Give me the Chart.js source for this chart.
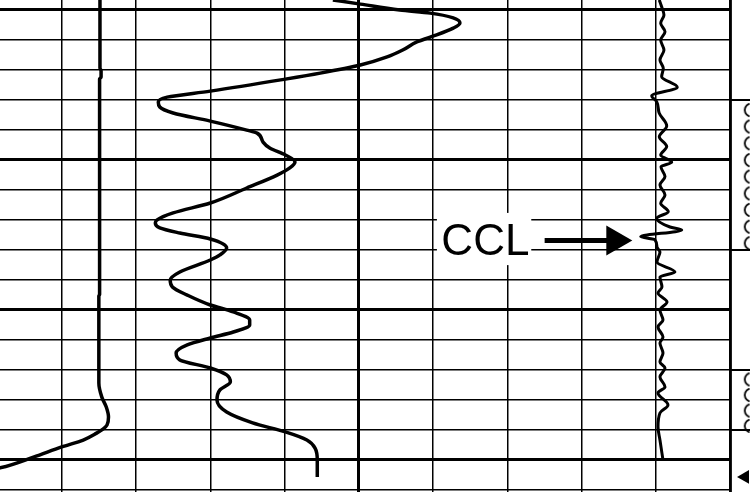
<!DOCTYPE html>
<html>
<head>
<meta charset="utf-8">
<script src="https://cdn.jsdelivr.net/npm/chart.js@4.4.1/dist/chart.umd.min.js"></script>
<style>
html,body{margin:0;padding:0;background:#fff;}
#wrap{width:750px;height:492px;}
canvas{display:block;}
</style>
</head>
<body>
<div id="wrap"><canvas id="c" width="750" height="492"></canvas></div>
<script>
// ---- scale / tick data (x: log value units, 10 per division; y: depth) ----
const xTicks = [10, 20, 30, 40, 50, 60, 70, 80, 90, 100];
const xMajorTicks = [50, 100];
const depthTicks = [1000, 1010, 1020, 1030, 1040, 1050, 1060, 1070, 1080, 1090, 1100, 1110, 1120, 1130, 1140, 1150, 1160];
const depthMajorTicks = [1000, 1050, 1100, 1150];

// ---- left curve ----
const leftX =     [15.15, 15.15, 15.3, 15.3, 15.1, 15.1, 15.0, 15.0, 15.4, 16.0, 16.3, 16.1, 15.6, 14.7, 12.9, 10.0, 6.2, 1.7, 0.0];
const leftDepth = [996.8, 1019.5, 1020.4, 1022.5, 1023.2, 1095.0, 1095.5, 1124.5, 1129.2, 1132.5, 1135.8, 1138.5, 1139.8, 1141.2, 1143.5, 1145.8, 1149.2, 1152.8, 1153.6];

// ---- main wiggly curve ----
const mainX = [46.5, 50.2, 55.5, 59.6, 62.7, 63.6, 62.7, 59.6, 57.8, 55.9, 53.8, 50.2, 44.8, 40.1, 30.0, 24.2, 23.0, 23.2, 25.0, 30.0,
  34.9, 36.3, 37.1, 38.0, 40.1, 41.4, 40.7, 39.0, 34.9, 30.0, 25.0, 22.8, 22.6, 23.2, 25.9, 30.0, 32.2, 31.3, 30.0, 25.9,
  24.6, 24.9, 26.9, 30.0, 33.1, 35.3, 35.3, 33.1, 30.0, 26.9, 25.4, 25.9, 30.0, 32.2, 32.7, 31.3, 30.9, 32.2, 35.7, 40.1,
  43.0, 44.1, 44.4, 44.4];
const mainDepth = [996.8, 998.2, 1000.2, 1001.2, 1002.8, 1004.5, 1006.2, 1009.2, 1010.8, 1013.5, 1015.8, 1018.5, 1021.2, 1023.2, 1027.2, 1029.2, 1030.8, 1032.5, 1034.5, 1037.2,
  1040.2, 1041.2, 1044.2, 1046.2, 1048.5, 1050.8, 1052.8, 1055.2, 1059.5, 1064.5, 1067.8, 1070.2, 1071.2, 1072.8, 1074.5, 1076.5, 1079.5, 1081.8, 1083.5, 1087.5,
  1090.2, 1092.5, 1095.2, 1098.5, 1100.8, 1103.5, 1105.2, 1107.5, 1109.5, 1111.8, 1114.5, 1116.8, 1119.5, 1121.8, 1124.2, 1126.8, 1130.2, 1134.2, 1137.8, 1140.8,
  1143.5, 1146.2, 1150.2, 1155.8];

// ---- CCL curve ----
const cclX = [90.43, 90.75, 91.06, 90.62, 91.20, 90.62, 91.06, 90.52, 90.97, 90.75, 92.85, 89.41, 90.08, 90.43, 91.43, 90.43, 91.43, 90.62, 92.10, 90.66,
  91.20, 90.52, 91.20, 90.62, 91.64, 90.08, 91.87, 93.45, 87.93, 89.85, 90.12, 90.52, 90.12, 92.54, 90.52, 90.79, 90.26, 91.47, 90.52, 90.93,
  90.26, 90.93, 90.52, 90.93, 90.52, 91.20, 90.52, 91.20, 90.26, 91.60, 90.52, 90.26, 90.52, 90.93];
const cclDepth = [996.8, 999.1, 1001.8, 1004.6, 1007.4, 1010.2, 1013.5, 1016.8, 1019.6, 1022.4, 1025.9, 1028.8, 1030.7, 1034.6, 1038.8, 1042.4, 1045.7, 1048.5, 1050.9, 1052.4,
  1055.7, 1058.5, 1061.8, 1064.6, 1067.4, 1069.6, 1072.5, 1073.5, 1075.7, 1076.8, 1079.2, 1080.8, 1084.2, 1087.5, 1089.2, 1092.5, 1094.5, 1097.5, 1100.2, 1103.5,
  1105.8, 1109.2, 1111.2, 1114.5, 1117.5, 1119.5, 1122.5, 1125.8, 1127.8, 1131.8, 1134.5, 1139.2, 1143.5, 1150.2];

// ---- right (perforation) track ----
const trackEdge = 100;
const perfX = 102.2;
const perfDepths = [1033.5, 1039.0, 1044.6, 1050.2, 1055.7, 1061.3, 1066.8, 1072.4, 1077.9, 1123.3, 1128.5, 1133.7, 1138.8];
const intervalDepths = [1030, 1080, 1120, 1140];
const markerX = 101.97;
const markerDepth = 1155.8;

// ---- CCL annotation ----
const labelText = 'CCL';
const labelPos = { x: 61.1, depth: 1081.7 };
const labelBox = { x0: 60.5, x1: 73.2, d0: 1067.8, d1: 1085.2 };
const arrowPos = { from: 75.0, base: 83.3, tip: 86.8, depth: 1077.0 };

const pts = (xs, ds) => xs.map((x, i) => ({ x: x, y: ds[i] }));

// paren glyph used as point style
const parenImg = document.createElement('canvas');
parenImg.width = 12; parenImg.height = 16;
(function () {
  const pc = parenImg.getContext('2d');
  pc.strokeStyle = '#000';
  pc.lineWidth = 1.8;
  pc.lineCap = 'round';
  pc.beginPath();
  pc.arc(10.5, 8, 6.5, Math.PI * 0.62, Math.PI * 1.38);
  pc.stroke();
})();

const overlay = {
  id: 'overlay',
  beforeDatasetsDraw(chart) {
    const { ctx, scales: { x, y } } = chart;
    ctx.save();
    // right track: clear grid beyond the track border
    const xb = x.getPixelForValue(trackEdge) + 1.5;
    ctx.fillStyle = '#fff';
    ctx.fillRect(xb, 0, chart.width - xb, chart.height);
    ctx.strokeStyle = '#000';
    ctx.lineWidth = 2;
    intervalDepths.forEach(d => {
      const py = Math.round(y.getPixelForValue(d));
      ctx.beginPath();
      ctx.moveTo(xb - 1, py);
      ctx.lineTo(chart.width, py);
      ctx.stroke();
    });
    // label box
    const bx0 = x.getPixelForValue(labelBox.x0), bx1 = x.getPixelForValue(labelBox.x1);
    const by0 = y.getPixelForValue(labelBox.d0), by1 = y.getPixelForValue(labelBox.d1);
    ctx.fillStyle = '#fff';
    ctx.fillRect(bx0, by0, bx1 - bx0, by1 - by0);
    ctx.fillStyle = '#000';
    ctx.font = '44px "Liberation Sans", Arial, sans-serif';
    ctx.textBaseline = 'alphabetic';
    ctx.textAlign = 'left';
    ctx.fillText(labelText, x.getPixelForValue(labelPos.x), y.getPixelForValue(labelPos.depth));
    // arrow
    const ay = y.getPixelForValue(arrowPos.depth);
    const ax0 = x.getPixelForValue(arrowPos.from), axb = x.getPixelForValue(arrowPos.base), axt = x.getPixelForValue(arrowPos.tip);
    ctx.lineWidth = 5;
    ctx.beginPath();
    ctx.moveTo(ax0, ay);
    ctx.lineTo(axb + 1, ay);
    ctx.stroke();
    ctx.beginPath();
    ctx.moveTo(axb, ay - 15);
    ctx.lineTo(axt, ay);
    ctx.lineTo(axb, ay + 15);
    ctx.closePath();
    ctx.fill();
    ctx.restore();
  }
};

const curveBase = { borderColor: '#000', pointRadius: 0, fill: false, cubicInterpolationMode: 'monotone' };

new Chart(document.getElementById('c'), {
  type: 'line',
  data: {
    datasets: [
      Object.assign({ data: pts(leftX, leftDepth), borderWidth: 3.5 }, curveBase),
      Object.assign({ data: pts(mainX, mainDepth), borderWidth: 3.5 }, curveBase),
      Object.assign({ data: pts(cclX, cclDepth), borderWidth: 3 }, curveBase),
      {
        data: perfDepths.map(d => ({ x: perfX, y: d })), showLine: false,
        pointStyle: parenImg, pointRadius: 6, clip: false
      },
      {
        data: [{ x: markerX, y: markerDepth }], showLine: false,
        pointStyle: 'triangle', rotation: 270, pointRadius: 8,
        backgroundColor: '#000', borderColor: '#000', borderWidth: 0, clip: false
      }
    ]
  },
  options: {
    responsive: false,
    animation: false,
    indexAxis: 'y',
    events: [],
    layout: { padding: 0, autoPadding: false },
    plugins: { legend: { display: false }, tooltip: { enabled: false } },
    scales: {
      x: {
        type: 'linear', min: 1.696, max: 102.64,
        afterBuildTicks: s => { s.ticks = xTicks.map(v => ({ value: v })); },
        ticks: { display: false },
        grid: { color: '#000', drawTicks: false, lineWidth: c => (c.tick && xMajorTicks.includes(c.tick.value)) ? 3 : 1.5 },
        border: { display: false }
      },
      y: {
        type: 'linear', reverse: true, min: 996.83, max: 1160.83,
        afterBuildTicks: s => { s.ticks = depthTicks.map(v => ({ value: v })); },
        ticks: { display: false },
        grid: { color: '#000', drawTicks: false, lineWidth: c => (c.tick && depthMajorTicks.includes(c.tick.value)) ? 3 : 1.5 },
        border: { display: false }
      }
    }
  },
  plugins: [overlay]
});
</script>
</body>
</html>
